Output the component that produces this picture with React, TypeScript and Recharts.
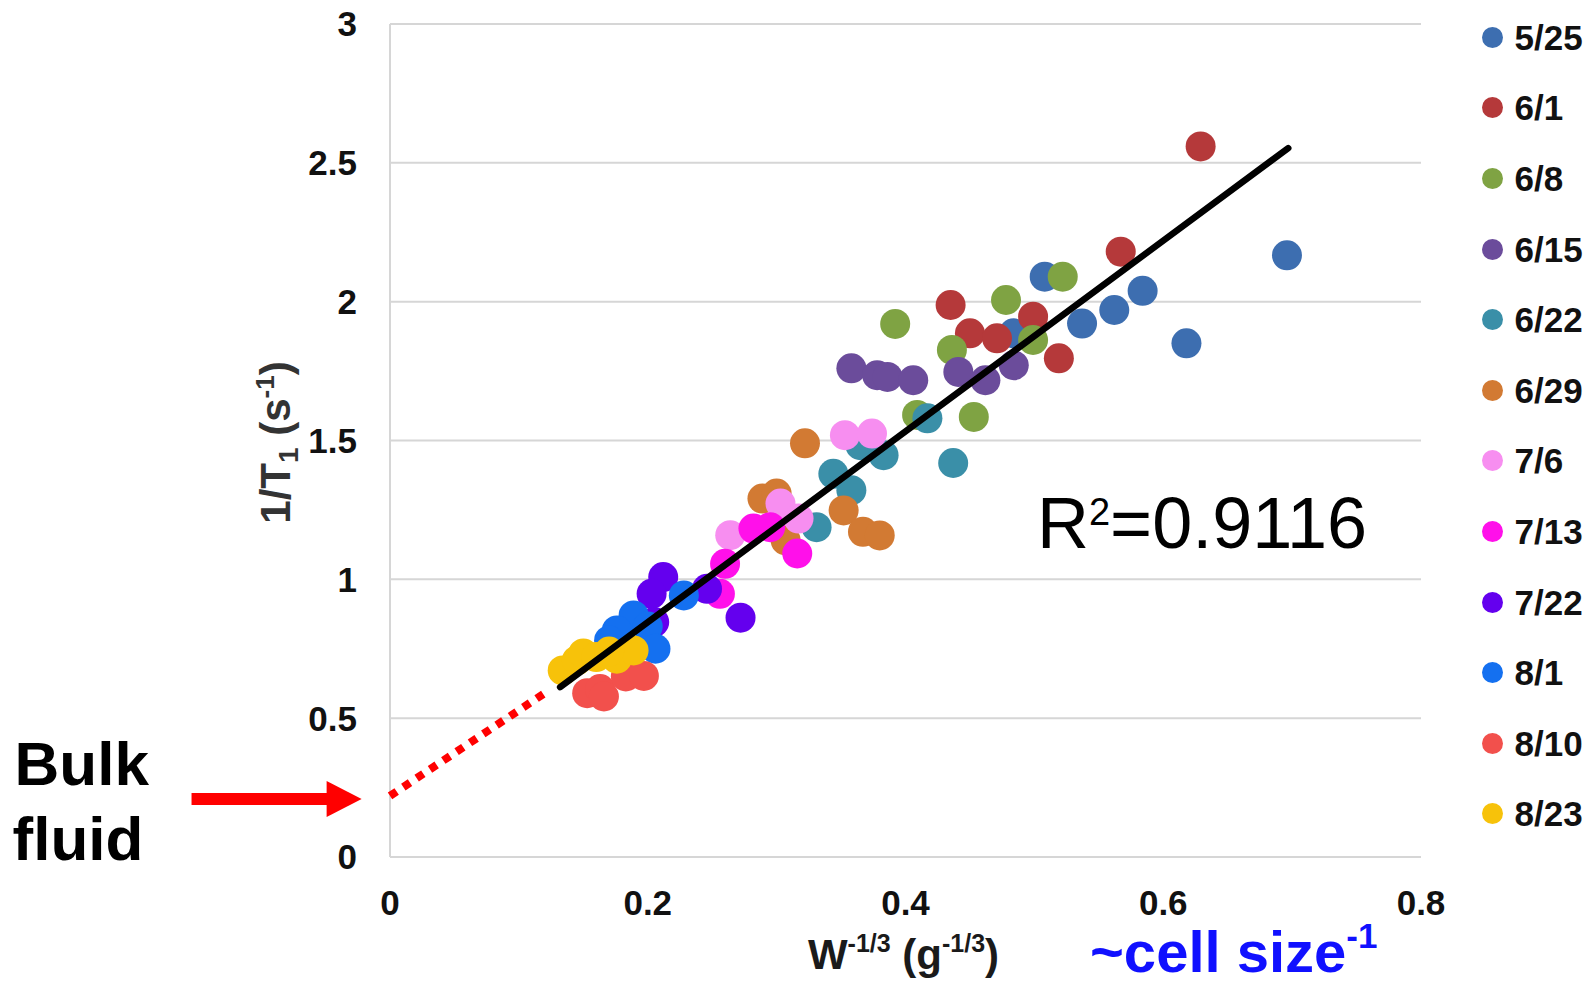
import {
  ScatterChart,
  Scatter,
  XAxis,
  YAxis,
  CartesianGrid,
  Legend,
  ReferenceLine,
  ReferenceDot,
} from 'recharts';

type Pt = { x: number; y: number };

// 1/T1 (s^-1) against W^-1/3 (g^-1/3), one array per sampling date
const may25: Pt[] = [
  { x: 0.696, y: 2.167 }, { x: 0.618, y: 1.85 }, { x: 0.584, y: 2.039 }, { x: 0.562, y: 1.97 },
  { x: 0.537, y: 1.921 }, { x: 0.508, y: 2.09 }, { x: 0.484, y: 1.886 },
];
const jun01: Pt[] = [
  { x: 0.629, y: 2.559 }, { x: 0.567, y: 2.18 }, { x: 0.435, y: 1.988 }, { x: 0.499, y: 1.946 },
  { x: 0.45, y: 1.886 }, { x: 0.471, y: 1.868 }, { x: 0.519, y: 1.796 },
];
const jun08: Pt[] = [
  { x: 0.392, y: 1.92 }, { x: 0.478, y: 2.006 }, { x: 0.522, y: 2.09 }, { x: 0.499, y: 1.862 },
  { x: 0.436, y: 1.826 }, { x: 0.409, y: 1.592 }, { x: 0.453, y: 1.585 },
];
const jun15: Pt[] = [
  { x: 0.358, y: 1.76 }, { x: 0.378, y: 1.735 }, { x: 0.386, y: 1.729 }, { x: 0.406, y: 1.717 },
  { x: 0.441, y: 1.747 }, { x: 0.462, y: 1.717 }, { x: 0.484, y: 1.771 },
];
const jun22: Pt[] = [
  { x: 0.365, y: 1.483 }, { x: 0.383, y: 1.447 }, { x: 0.344, y: 1.38 }, { x: 0.358, y: 1.321 },
  { x: 0.331, y: 1.188 }, { x: 0.417, y: 1.58 }, { x: 0.437, y: 1.419 },
];
const jun29: Pt[] = [
  { x: 0.322, y: 1.49 }, { x: 0.352, y: 1.248 }, { x: 0.367, y: 1.171 }, { x: 0.38, y: 1.158 },
  { x: 0.289, y: 1.291 }, { x: 0.3, y: 1.309 }, { x: 0.307, y: 1.14 },
];
const jul06: Pt[] = [
  { x: 0.353, y: 1.519 }, { x: 0.374, y: 1.525 }, { x: 0.303, y: 1.273 }, { x: 0.317, y: 1.219 },
  { x: 0.264, y: 1.159 },
];
const jul13: Pt[] = [
  { x: 0.295, y: 1.188 }, { x: 0.282, y: 1.183 }, { x: 0.316, y: 1.093 }, { x: 0.26, y: 1.056 },
  { x: 0.256, y: 0.948 },
];
const jul22: Pt[] = [
  { x: 0.212, y: 1.008 }, { x: 0.203, y: 0.948 }, { x: 0.246, y: 0.966 }, { x: 0.272, y: 0.862 },
  { x: 0.205, y: 0.846 },
];
const aug01: Pt[] = [
  { x: 0.228, y: 0.942 }, { x: 0.189, y: 0.87 }, { x: 0.2, y: 0.83 }, { x: 0.176, y: 0.816 },
  { x: 0.17, y: 0.78 }, { x: 0.206, y: 0.75 },
];
const aug10: Pt[] = [
  { x: 0.153, y: 0.59 }, { x: 0.163, y: 0.605 }, { x: 0.183, y: 0.65 }, { x: 0.197, y: 0.652 },
  { x: 0.166, y: 0.578 },
];
const aug23: Pt[] = [
  { x: 0.134, y: 0.672 }, { x: 0.145, y: 0.708 }, { x: 0.15, y: 0.733 }, { x: 0.16, y: 0.72 },
  { x: 0.176, y: 0.714 }, { x: 0.189, y: 0.744 }, { x: 0.17, y: 0.74 },
];

const dates = ['5/25', '6/1', '6/8', '6/15', '6/22', '6/29', '7/6', '7/13', '7/22', '8/1', '8/10', '8/23'];
const dateColors = [
  '#3d6eb0', '#b5393a', '#7fa343', '#6b4c9b', '#3a8fa8', '#d27a33',
  '#f78ef0', '#ff10ea', '#6400ee', '#1470f0', '#f2504c', '#f7c20a',
];
const dateSeries = [may25, jun01, jun08, jun15, jun22, jun29, jul06, jul13, jul22, aug01, aug10, aug23];

// linear fit and its extrapolation back to the bulk-fluid value
const fitLine: Pt[] = [{ x: 0.132, y: 0.612 }, { x: 0.697, y: 2.553 }];
const bulkExtrapolation: Pt[] = [{ x: 0, y: 0.22 }, { x: 0.12, y: 0.59 }];
const bulkArrow: Pt[] = [{ x: -0.154, y: 0.209 }, { x: -0.022, y: 0.209 }];
const r2Anchor: Pt = { x: 0.502, y: 1.113 };
const r2Value = '0.9116';

const xTicks = [0, 0.2, 0.4, 0.6, 0.8];
const yTicks = [0, 0.5, 1, 1.5, 2, 2.5, 3];

const FONT = '"Liberation Sans", Arial, sans-serif';
const tickStyle = { fontSize: 35, fontWeight: 700, fill: '#111' };
const DOT_R = 15;

const YTitle = ({ viewBox }: any) => {
  const cx = viewBox.x + 290;
  const cy = viewBox.y + viewBox.height / 2 + 2;
  return (
    <text
      x={cx}
      y={cy}
      transform={`rotate(-90 ${cx} ${cy})`}
      textAnchor="middle"
      fontSize={42}
      fontWeight={700}
      fill="#333"
    >
      1/T<tspan fontSize={28} dy={8}>1</tspan>
      <tspan dy={-8}> (s</tspan>
      <tspan fontSize={26} dy={-16}>-1</tspan>
      <tspan dy={16}>)</tspan>
    </text>
  );
};

const XTitle = ({ viewBox }: any) => {
  const { x, y, width } = viewBox;
  return (
    <g>
      <text x={x + width / 2 - 2} y={y + 112} textAnchor="middle" fontSize={42} fontWeight={700} fill="#1a1a1a">
        W<tspan fontSize={25} dy={-17}>-1/3</tspan>
        <tspan dy={17}> (g</tspan>
        <tspan fontSize={25} dy={-17}>-1/3</tspan>
        <tspan dy={17}>)</tspan>
      </text>
      <text x={x + 700} y={y + 115} fontSize={58} fontWeight={700} fill="#1010ff">
        ~cell size<tspan fontSize={35} dy={-24}>-1</tspan>
      </text>
    </g>
  );
};

const ArrowShape = (props: any) => {
  const { x1, y1, x2 } = props;
  const head = 35;
  return (
    <g>
      <line x1={x1} y1={y1} x2={x2 - head + 2} y2={y1} stroke="#ff0000" strokeWidth={12} />
      <polygon points={`${x2 - head},${y1 - 18} ${x2},${y1} ${x2 - head},${y1 + 18}`} fill="#ff0000" />
      <text x={x1 - 177} y={y1 - 14} fontSize={62} fontWeight={700} fill="#000">Bulk</text>
      <text x={x1 - 179} y={y1 + 61} fontSize={62} fontWeight={700} fill="#000">fluid</text>
    </g>
  );
};

const R2Shape = ({ cx, cy }: any) => (
  <text x={cx} y={cy} fontSize={72} fill="#000">
    R<tspan fontSize={38} dy={-23}>2</tspan>
    <tspan dy={23}>={r2Value}</tspan>
  </text>
);

const Dot = ({ cx, cy, fill }: any) => <circle cx={cx} cy={cy} r={DOT_R} fill={fill} />;

const DateLegend = ({ payload }: any) => {
  const items = (payload || [])
    .filter((p: any) => dates.includes(p.value))
    .sort((a: any, b: any) => dates.indexOf(a.value) - dates.indexOf(b.value));
  return (
    <div>
      {items.map((p: any) => (
        <div key={p.value} style={{ display: 'flex', alignItems: 'center', height: 70.6 }}>
          <span
            style={{ width: 21, height: 21, borderRadius: '50%', background: p.color, marginRight: 11.5, flexShrink: 0 }}
          />
          <span style={{ fontSize: 35, fontWeight: 700, color: '#111', lineHeight: 1 }}>{p.value}</span>
        </div>
      ))}
    </div>
  );
};

const noMarker = () => <g />;

export default function App() {
  return (
    <div style={{ position: 'absolute', left: 0, top: 0, fontFamily: FONT, background: '#fff' }}>
      <ScatterChart width={1595} height={986} margin={{ top: 24, right: 174, bottom: 0, left: 0 }}>
        <CartesianGrid vertical={false} stroke="#d6d6d6" strokeWidth={2} />
        <XAxis
          type="number"
          dataKey="x"
          domain={[0, 0.8]}
          ticks={xTicks}
          height={129}
          tickLine={false}
          tickSize={0}
          tickMargin={33}
          axisLine={{ stroke: '#d6d6d6', strokeWidth: 2 }}
          tick={tickStyle}
          label={(p: any) => <XTitle {...p} />}
        />
        <YAxis
          type="number"
          dataKey="y"
          domain={[0, 3]}
          ticks={yTicks}
          width={390}
          tickLine={false}
          tickSize={0}
          tickMargin={33}
          axisLine={{ stroke: '#d6d6d6', strokeWidth: 2 }}
          tick={tickStyle}
          label={(p: any) => <YTitle {...p} />}
        />
        <Legend
          layout="vertical"
          align="center"
          verticalAlign="middle"
          wrapperStyle={{ left: 1482, top: 2, width: 113 }}
          content={(p: any) => <DateLegend {...p} />}
        />
        {dateSeries.map((data, i) => (
          <Scatter
            key={dates[i]}
            name={dates[i]}
            data={data}
            fill={dateColors[i]}
            shape={(p: any) => <Dot {...p} />}
            isAnimationActive={false}
          />
        ))}
        <Scatter
          data={bulkExtrapolation}
          fill="#ff0000"
          line={{ stroke: '#ff0000', strokeWidth: 8, strokeDasharray: '8 8' }}
          shape={noMarker}
          legendType="none"
          isAnimationActive={false}
        />
        <Scatter
          data={fitLine}
          fill="#000"
          line={{ stroke: '#000', strokeWidth: 6.5, strokeLinecap: 'round' }}
          shape={noMarker}
          legendType="none"
          isAnimationActive={false}
        />
        <ReferenceLine segment={bulkArrow} ifOverflow="visible" shape={(p: any) => <ArrowShape {...p} />} />
        <ReferenceDot x={r2Anchor.x} y={r2Anchor.y} ifOverflow="visible" shape={(p: any) => <R2Shape {...p} />} />
      </ScatterChart>
    </div>
  );
}
